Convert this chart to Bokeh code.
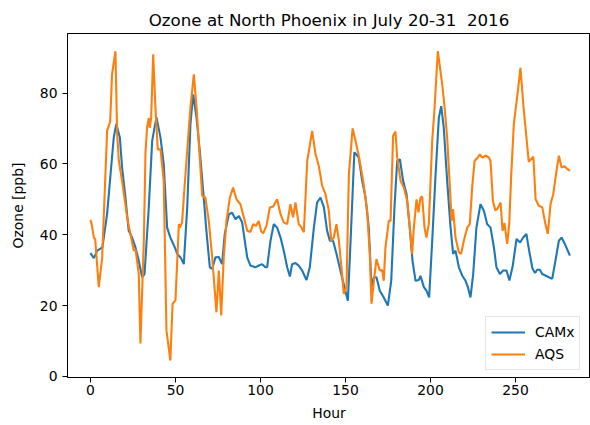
from bokeh.plotting import figure
from bokeh.models import Range1d, FixedTicker, Legend, LegendItem
from bokeh.embed import file_html
from bokeh.resources import INLINE

# CAMx (model) hourly ozone
camx_hour = [0, 2, 4, 7, 9.8, 11.8, 13.7, 15.2, 17.3, 18.6, 20.6, 22.5, 24.5, 26.5, 28.4, 30.4, 31.8,
             34.3, 36.3, 38.8, 41.2, 43.1, 45.1, 47, 50, 51, 53, 54.9, 56.9, 58.8, 60.4, 62.4, 64.3,
             66.3, 68.2, 70.2, 71.6, 73.5, 75.5, 77.4, 79, 81.4, 83.3, 85.3, 87.3, 89.2, 92.2, 94.1,
             97, 99, 101, 102.9, 103.9, 105.9, 107.8, 109.8, 111.8, 113.7, 115.7, 117.3, 118.6, 120.6,
             122.5, 124.5, 127.1, 129, 131.4, 133.3, 135.3, 137.3, 139.2, 140.8, 142.7, 144.7, 147,
             149.4, 151.4, 153, 155.2, 157.8, 159.8, 161.8, 163.7, 165.3, 166.7, 168.2, 170.2, 172.5,
             174.9, 176.9, 178.8, 180.4, 182, 183.9, 185.9, 187.8, 189.4, 191.2, 193.1, 194.1, 196.1,
             197.6, 199.2, 201, 203, 204.9, 206.3, 207.8, 209.8, 211.8, 213.3, 214.7, 216.7, 218.6,
             220.6, 222, 223.5, 225.1, 227, 229.4, 231.4, 233.3, 235.3, 237.3, 238.8, 240.8, 242.7,
             244.7, 246.4, 248.3, 250.6, 252.7, 254.5, 256.4, 258, 260, 261.5, 262.7, 264.3, 265.7,
             267.6, 269.6, 271.6, 273.5, 275.5, 277.1, 279, 282]
camx_ppb = [34.8, 33.4, 35.5, 36.4, 45.9, 57, 67.4, 71.3, 67.4, 59, 50.5, 41.1, 39.2, 36.4, 32.7, 28, 28.9,
            47.7, 66.5, 73.2, 67.4, 59.9, 42, 39.2, 36, 34.6, 33.6, 31.7, 47.7, 71.2, 79.6, 73, 63.7,
            52.4, 41.1, 30.8, 30.4, 33.6, 33.7, 31.7, 40.2, 45.8, 46.2, 44.4, 45.3, 43.5, 33.6, 31.3,
            30.8, 31.3, 31.7, 30.8, 30.8, 38.3, 43, 42, 39.2, 35.5, 30.8, 28.2, 31.7, 32,
            31.3, 29.9, 27.2, 30.8, 42, 49.1, 50.5, 47.7, 41.1, 38.3, 38.3, 34.6, 29.9,
            25.2, 21.4, 38.3, 63.3, 61.8, 55.2, 50.5, 42, 25.2, 28, 28, 24.2, 22.3,
            20, 27, 47.7, 60.8, 61.3, 55.2, 51.5, 42, 32.7, 27, 27.2, 28.4, 25.2,
            24.2, 22.3, 38.3, 57.1, 73, 76.3, 70.2, 55.2, 42, 34.6, 35.5, 30.8, 28.5,
            27, 25.2, 22.3, 28.9, 42, 48.6, 46.8, 43, 42, 36.4, 30.8, 28.9, 29.9,
            29.9, 27.1, 31, 38.8, 37.8, 39.2, 40.2, 35.5, 30.4, 29.2, 30.1, 30.1, 28.9,
            28.5, 28, 27.6, 32.7, 38.3, 39.2, 37.4, 34.1]

aqs_hour = [0, 0.7, 2, 2.8, 4.9, 6.9, 8.8, 9.8, 11.6, 12.7, 14.7, 15.7, 16.7, 18.6, 21.6, 23.5, 25.5,
            26.5, 28.4, 29.4, 31.4, 32.4, 33.3, 34.3, 34.9, 35.7, 36.9, 38.2, 39.6, 41.2, 43.1, 44.7,
            47, 48.3, 50, 52, 52.6, 53.9, 54.9, 56.9, 58.8, 60.8, 62.4, 64.3, 65.7, 67.6, 69.6, 71.6,
            74.1, 75.5, 76.9, 78.4, 80, 82, 83.9, 85.9, 88.2, 90.2, 92.2, 94.1, 95.7, 97.3, 99, 100.4,
            101.6, 103.5, 105.5, 107.5, 109.8, 111.8, 113.7, 115.7, 117.6, 119.2, 120.6, 122.5,
            123.9, 125.5, 127.5, 130.4, 132.4, 134.3, 136.3, 138.2, 140.2, 141.6, 143.1, 144.7,
            146.1, 148, 149, 150.6, 152, 154.2, 155.9, 157.8, 160.4, 162.7, 164.3, 165.3, 166.7,
            168.2, 170.2, 171.6, 172.5, 173.5, 175.5, 176.5, 178, 179.4, 180.4, 182.4, 184.3, 186.3,
            187.8, 189.2, 190.2, 191.8, 192.9, 194.1, 195.1, 196.5, 197.6, 199, 201, 202.4, 204.3,
            206.9, 208.3, 209.8, 211.4, 212.4, 213.3, 214.7, 216.7, 218, 219.6, 221.6, 223.1, 224.5,
            225.9, 227.8, 229, 230.4, 232.4, 234.3, 235.3, 236.7, 238.2, 239.6, 241.2, 242.4, 243.5,
            245.1, 246.3, 247.5, 249, 251.4, 252.9, 254.8, 257.8, 260.5, 261.8, 263.7, 265.7, 267.6,
            269, 270.6, 272.2, 274.1, 275.5, 277.1, 278.8, 280.4, 282]
aqs_ppb = [44.2, 43, 39.2, 38.7, 25.2, 33.6, 57, 69.3, 72, 85.3, 91.8, 68.4, 60.8, 55.2, 44.9, 40.2, 35.5,
           35.9, 29, 9.3, 38.3, 63.7, 70.2, 73, 70.2, 73, 90.9, 75.9, 64.1, 64.1, 55.2, 13,
           4.5, 20.5, 21.5, 43, 42, 43.5, 50.5, 63.7, 75.9, 85.3, 75.9, 61.8, 51, 50.5, 43.9, 33.6,
           18.1, 29.9, 17.2, 33.6, 43.9, 50.5, 53.3, 50, 48.6, 44.9, 41.1, 40.8, 43, 42.5, 43.9, 40.9,
           40.4, 42.5, 47.7, 48, 50, 45.8, 43.5, 43, 48.6, 44.9, 49.1, 43,
           42.2, 40.7, 60.8, 69.3, 62.7, 59.4, 53.8, 51.5, 46.8, 38.3, 39.2, 43,
           38.3, 28.9, 23.3, 25.2, 57.1, 70, 66.5, 62.3, 55.2, 46.8, 34.6, 20.5, 27,
           33.1, 29.9, 30, 27, 36.4, 43.9, 43.9, 67.9, 69.1, 61.8, 55.2, 53.3, 49.6,
           42, 34.6, 42, 50, 46.3, 50.5, 50.8, 42, 39.2, 43, 66.5, 75.9, 91.8,
           82.4, 75.9, 67.4, 53.3, 43.9, 47.2, 39.2, 35, 34.6, 38.3, 42, 43, 53.3,
           60.8, 61.8, 62.7, 61.8, 62.3, 61.8, 60.8, 49.6, 46.8, 47.5, 49.1, 41.1, 43.3,
           37.4, 43, 57.1, 71.2, 80.6, 87.1, 75.5, 60.6, 62, 50, 48.2, 47.8, 43,
           40.2, 48.6, 51.5, 58, 62.3, 59, 59.3, 58.6, 58]

x_ticks = [0, 50, 100, 150, 200, 250]
y_ticks = [0, 20, 40, 60, 80]

FONT = "DejaVu Sans"

p = figure(width=590, height=425, output_backend="svg", toolbar_location=None,
           x_range=Range1d(-13.5, 294.1), y_range=Range1d(-0.3, 96.8),
           min_border_left=67, min_border_right=0, min_border_top=33, min_border_bottom=48,
           title="Ozone at North Phoenix in July 20-31 \u00a02016")

p.title.text_font = FONT
p.title.text_font_size = "16.67px"
p.title.text_font_style = "normal"
p.title.text_color = "black"
p.title.align = "center"
p.title.standoff = 7

p.grid.visible = False
p.outline_line_color = "black"
p.outline_line_width = 1
p.background_fill_color = "white"
p.border_fill_color = "white"

for ax, ticks, label in ((p.xaxis[0], x_ticks, "Hour"), (p.yaxis[0], y_ticks, "Ozone [ppb]")):
    ax.ticker = FixedTicker(ticks=ticks)
    ax.axis_label = label
    ax.axis_label_text_font = FONT
    ax.axis_label_text_font_size = "13.9px"
    ax.axis_label_text_font_style = "normal"
    ax.axis_label_text_color = "black"
    ax.major_label_text_font = FONT
    ax.major_label_text_font_size = "13.9px"
    ax.major_label_text_color = "black"
    ax.axis_line_color = "black"
    ax.major_tick_line_color = "black"
    ax.major_tick_out = 5
    ax.major_tick_in = 0
    ax.minor_tick_line_color = None
    ax.major_label_standoff = 5

p.xaxis.major_label_standoff = 2
p.xaxis.axis_label_standoff = 7
p.yaxis.axis_label_standoff = 11

r1 = p.line(camx_hour, camx_ppb, line_color="#1f77b4", line_width=2.1)
r2 = p.line(aqs_hour, aqs_ppb, line_color="#ff7f0e", line_width=2.1)

legend = Legend(items=[LegendItem(label="CAMx", renderers=[r1]),
                       LegendItem(label="AQS", renderers=[r2])],
                location=(418, 7))
legend.label_text_font = FONT
legend.label_text_font_size = "13.9px"
legend.label_text_color = "black"
legend.glyph_width = 34
legend.glyph_height = 20
legend.label_height = 20
legend.label_standoff = 10
legend.spacing = 2
legend.padding = 5
legend.border_line_color = "#cccccc"
legend.border_line_width = 1
legend.background_fill_alpha = 0.8
p.add_layout(legend)

open("out.html", "w").write(file_html(p, INLINE))
